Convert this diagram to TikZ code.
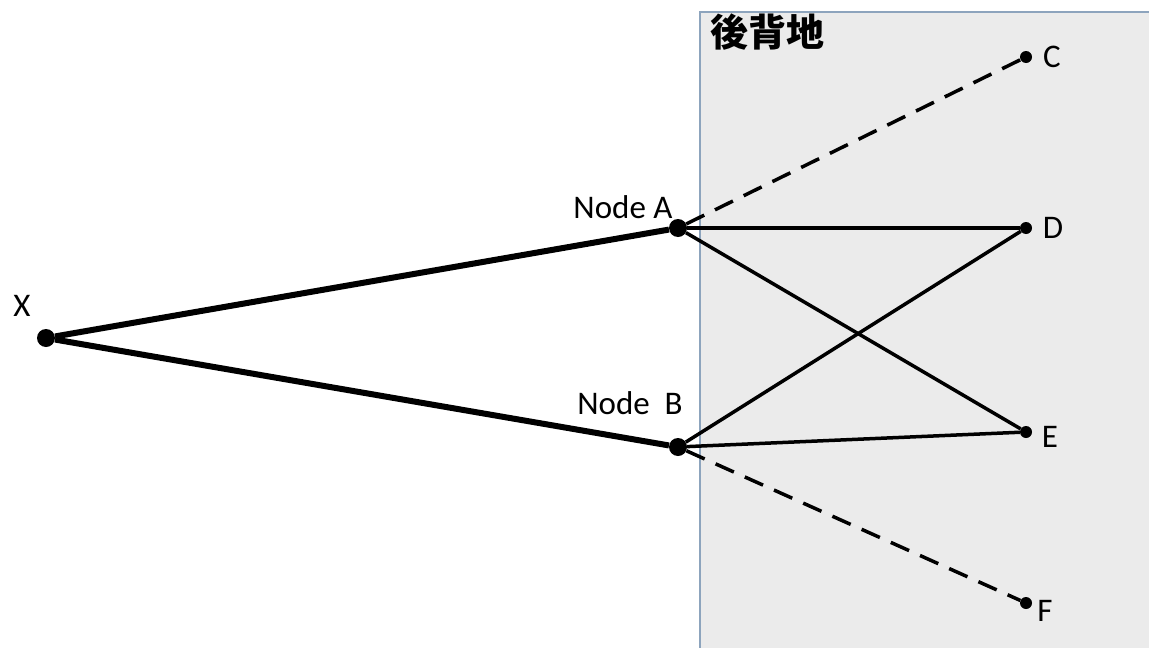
\documentclass[tikz,border=0pt]{standalone}
\usepackage{fontspec}
\setmainfont{Carlito}
\newfontfamily\jpfont{Noto Sans CJK JP}
\usetikzlibrary{positioning}
\definecolor{hinter}{HTML}{EBEBEB}
\definecolor{hinteredge}{HTML}{8DA4BD}

\begin{document}
\begin{tikzpicture}[x=1pt, y=-1pt,
    bigdot/.style={circle, fill, inner sep=0pt, minimum size=18pt},
    smalldot/.style={circle, fill, inner sep=0pt, minimum size=12pt},
    lbl/.style={inner sep=0pt, font=\fontsize{33}{36}\selectfont},
    trunk/.style={line width=6pt},
    link/.style={line width=3.5pt},
    maybe/.style={line width=3.5pt, dash pattern=on 20pt off 12pt}]
    \useasboundingbox (0,0) rectangle (1149,648);
    \fill[hinter] (700,12) rectangle (1160,660);
    \draw[hinteredge, line width=2pt] (700,660) -- (700,12) -- (1160,12);
    \node (title) [font=\jpfont\bfseries\fontsize{38}{40}\selectfont] at (767,32) {後背地};
    % nodes
    \node[bigdot] (X) at (46,338) {};
    \node[bigdot] (A) at (678,228) {};
    \node[bigdot] (B) at (678,447) {};
    \foreach \n/\y in {C/57, D/228, E/432, F/603}
      \node[smalldot] (\n) at (1026,\y) {};
    % labels
    \node[lbl] (lX) at (22,306) {X};
    \node[lbl] (lA) at (623,207) {Node A};
    \node[lbl] (lB) at (630,403) {Node~~B};
    \node[lbl] (lC) at (1052,57) {C};
    \node[lbl] (lD) at (1053,228) {D};
    \node[lbl] (lE) at (1050,437) {E};
    \node[lbl] (lF) at (1045,611) {F};
    % edges
    \foreach \to in {A,B}
      \draw[trunk] (X) -- (\to);
    \foreach \from in {A,B}
      \foreach \to in {D,E}
        \draw[link] (\from) -- (\to);
    \draw[maybe] (A) -- (C);
    \draw[maybe] (B) -- (F);
\end{tikzpicture}
\end{document}
